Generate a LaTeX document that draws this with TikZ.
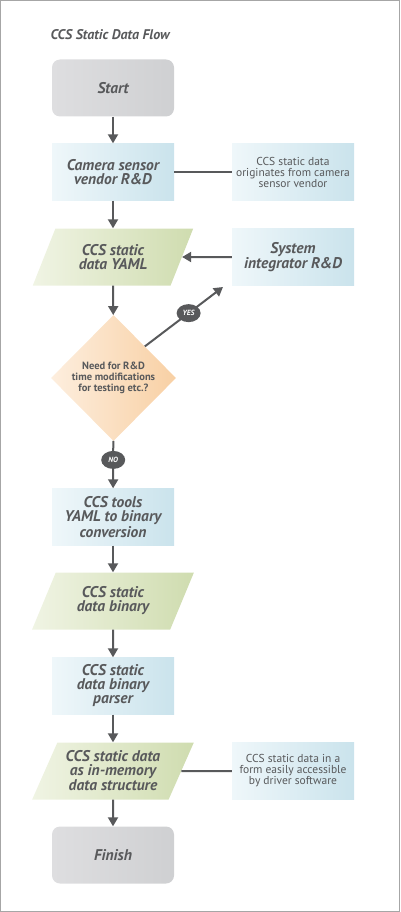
\documentclass[tikz,border=0pt]{standalone}
\usepackage{fontspec}
\setmainfont{PT Sans}
\usetikzlibrary{shapes.geometric,arrows.meta}
\definecolor{ink}{HTML}{58595B}
\definecolor{termL}{HTML}{DEDEE0}
\definecolor{termR}{HTML}{CFD0D2}
\definecolor{procL}{HTML}{EFF7FA}
\definecolor{procR}{HTML}{CAE3EC}
\definecolor{dataL}{HTML}{F0F4E4}
\definecolor{dataR}{HTML}{CFDCAF}
\definecolor{askL}{HTML}{FDEEDE}
\definecolor{askR}{HTML}{F8D0A4}

\begin{document}
\begin{tikzpicture}[x=1pt,y=-1pt,
    every node/.style={text=ink,align=center},
    lbl/.style={font=\fontsize{15.5}{14}\selectfont\bfseries\itshape},
    terminal/.style={lbl,rounded corners=8pt,minimum width=122,minimum height=57,left color=termL,right color=termR},
    process/.style={lbl,minimum width=122,minimum height=57,left color=procL,right color=procR},
    iodata/.style={lbl,trapezium,trapezium left angle=62,trapezium right angle=118,
      trapezium stretches=true,minimum width=162,minimum height=57,inner sep=0pt,
      left color=dataL,right color=dataR},
    ask/.style={diamond,minimum width=125,minimum height=126,inner sep=0pt,aspect=1,
      font=\fontsize{10.5}{11}\selectfont\bfseries,left color=askL,right color=askR},
    note/.style={font=\fontsize{11.5}{11}\selectfont,minimum width=122,minimum height=57,
      left color=procL,right color=procR},
    pill/.style={ellipse,fill=ink,text=white,minimum width=24,minimum height=18,inner sep=0pt,
      font=\fontsize{7.5}{8}\selectfont\bfseries\itshape},
    arr/.style={-{Triangle[length=9pt,width=10pt]},line width=2pt,draw=ink},
    link/.style={line width=2pt,draw=ink}]
  \useasboundingbox (0,0) rectangle (400,912);
  \draw[gray!70] (0.5,0.5) rectangle (399.5,911.5);

  \node[anchor=west,font=\fontsize{14}{14}\selectfont\bfseries\itshape] (title) at (47,35) {CCS Static Data Flow};

  \node[terminal] (start) at (113,88) {Start};
  \node[process] (vendor) at (113,172) {Camera sensor\\vendor R\&D};
  \node[note] (origin) at (293,172) {CCS static data\\originates from camera\\sensor vendor};
  \node[iodata] (yaml) at (113,257) {CCS static\\data YAML};
  \node[process] (integ) at (293,257) {System\\integrator R\&D};
  \node[ask] (need) at (113.5,378) {Need for R\&D\\time modifications\\for testing etc.?};
  \node[process] (tools) at (113,517) {CCS tools\\YAML to binary\\conversion};
  \node[iodata] (binary) at (113,601) {CCS static\\data binary};
  \node[process] (parser) at (113,686) {CCS static\\data binary\\parser};
  \node[iodata] (memory) at (113,771) {CCS static data\\as in-memory\\data structure};
  \node[note] (access) at (293,771) {CCS static data in a\\form easily accessible\\by driver software};
  \node[terminal] (finish) at (113,855) {Finish};
  \coordinate (yestip) at (223,287);

  \draw[arr] (start) -- (vendor);
  \draw[link] (vendor) -- (origin);
  \draw[arr] (vendor) -- (yaml);
  \draw[arr] (integ.west) -- (yaml.east);
  \draw[arr] (yaml) -- (need);
  \draw[arr] (need.north east) -- node[pill,pos=0.56] (yes) {YES} (yestip);
  \draw[arr] (need) -- node[pill,pos=0.4] (no) {NO} (tools);
  \draw[arr] (tools) -- (binary);
  \draw[arr] (binary) -- (parser);
  \draw[arr] (parser) -- (memory);
  \draw[link] (memory.east) -- (access);
  \draw[arr] (memory) -- (finish);
\end{tikzpicture}
\end{document}
